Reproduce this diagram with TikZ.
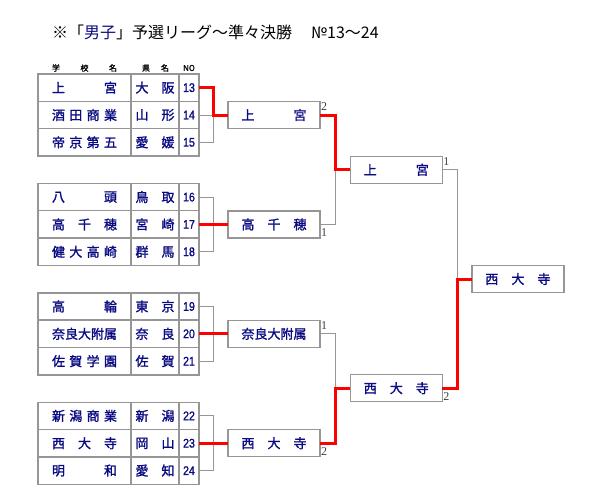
\documentclass[tikz,border=0pt]{standalone}
\usepackage{fontspec}
\setmainfont{Noto Sans CJK JP}
\newfontfamily\namefont[FakeBold=1.5]{Noto Sans CJK JP}
\newfontfamily\numfont[FakeStretch=0.85,FakeBold=1.2]{Liberation Sans}
\newfontfamily\rankfont{Liberation Serif}
\usetikzlibrary{positioning}
\definecolor{namecol}{RGB}{10,10,130}
\definecolor{linegray}{RGB}{150,150,150}
\definecolor{wonred}{RGB}{255,0,0}
\newcommand{\spreadtext}[2]{\makebox[#1][s]{#2}}

\begin{document}
\begin{tikzpicture}[
    x=1pt,y=-1pt,
    node distance=0pt,
    cell/.style={draw=linegray,line width=1.4pt,rectangle,inner sep=0pt,outer sep=0pt,minimum height=27.35pt,text=namecol,font=\namefont\fontsize{13}{13}\selectfont},
    school/.style={cell,minimum width=93pt},
    pref/.style={cell,minimum width=48pt},
    num/.style={cell,minimum width=20pt,font=\numfont\fontsize{12.5}{12.5}\selectfont},
    win/.style={cell,minimum width=92pt,minimum height=27pt},
    hdr/.style={inner sep=0pt,font=\namefont\fontsize{8}{8}\selectfont},
    rank/.style={inner sep=0.8pt,text=black!75,font=\rankfont\fontsize{12}{12}\selectfont},
    line/.style={draw=linegray,line width=1pt},
    wonline/.style={draw=wonred,line width=3pt}
]
\useasboundingbox (0,0) rectangle (600,500);

% title
\node[anchor=west,inner sep=0pt,font=\fontsize{16}{16}\selectfont] (title) at (52,32)
    {※「{\color{namecol}男子}」予選リーグ～準々決勝\hspace{19pt}№13～24};

% headers
\node[hdr] (hschool) at (84.5,68) {\spreadtext{65pt}{学 校 名}};
\node[hdr] (hpref) at (155.5,68) {\spreadtext{27pt}{県 名}};
\node[hdr] (hno) at (189,68) {NO};

% entry tables
\foreach \no/\sch/\pre [count=\i from 0] in {
    13/{上 宮}/{大 阪}, 14/{酒 田 商 業}/{山 形}, 15/{帝 京 第 五}/{愛 媛},
    16/{八 頭}/{鳥 取}, 17/{高 千 穂}/{宮 崎}, 18/{健 大 高 崎}/{群 馬},
    19/{高 輪}/{東 京}, 20/{奈良大附属}/{奈 良}, 21/{佐 賀 学 園}/{佐 賀},
    22/{新 潟 商 業}/{新 潟}, 23/{西 大 寺}/{岡 山}, 24/{明 和}/{愛 知}}{
  \pgfmathsetmacro\rowy{74+27.35*(4*int(\i/3)+mod(\i,3)+0.5)}
  \node[school] (s\no) at (84.5,\rowy) {\spreadtext{65pt}{\sch}};
  \node[pref,right=of s\no] (p\no) {\spreadtext{39pt}{\pre}};
  \node[num,right=of p\no] (n\no) {\no};
}

% winners
\node[win,right=29pt of n14] (b1) {\spreadtext{65pt}{上 宮}};
\node[win,right=29pt of n17] (b2) {\spreadtext{65pt}{高 千 穂}};
\node[win,right=29pt of n20] (b3) {\spreadtext{65pt}{奈良大附属}};
\node[win,right=29pt of n23] (b4) {\spreadtext{65pt}{西 大 寺}};
\node[win] (s1) at (396.3,169.8) {\spreadtext{65pt}{上 宮}};
\node[win] (s2) at (396.3,388.2) {\spreadtext{65pt}{西 大 寺}};
\node[win] (fin) at (517.9,279) {\spreadtext{65pt}{西 大 寺}};

% scores
\node[rank,anchor=north west] (r1) at (b1.north east) {2};
\node[rank,anchor=south west] (r2) at (b2.south east) {1};
\node[rank,anchor=north west] (r3) at (b3.north east) {1};
\node[rank,anchor=south west] (r4) at (b4.south east) {2};
\node[rank,anchor=north west] (r5) at (s1.north east) {1};
\node[rank,anchor=south west] (r6) at (s2.south east) {2};

% brackets
\foreach \a/\b/\c/\tgt/\won in {13/14/15/b1/13, 16/17/18/b2/17, 19/20/21/b3/20, 22/23/24/b4/23}{
  \foreach \k in {\a,\b,\c}
    \draw[line] (n\k.east) -- ++(14,0) |- (\tgt.west);
  \draw[wonline] (n\won.east) -- ++(14,0) |- (\tgt.west);
}
\foreach \up/\down/\tgt/\won in {b1/b2/s1/b1, b3/b4/s2/b4, s1/s2/fin/s2}{
  \draw[line] (\up.east) -- ++(15,0) |- (\tgt.west);
  \draw[line] (\down.east) -- ++(15,0) |- (\tgt.west);
  \draw[wonline] (\won.east) -- ++(15,0) |- (\tgt.west);
}
\end{tikzpicture}
\end{document}
